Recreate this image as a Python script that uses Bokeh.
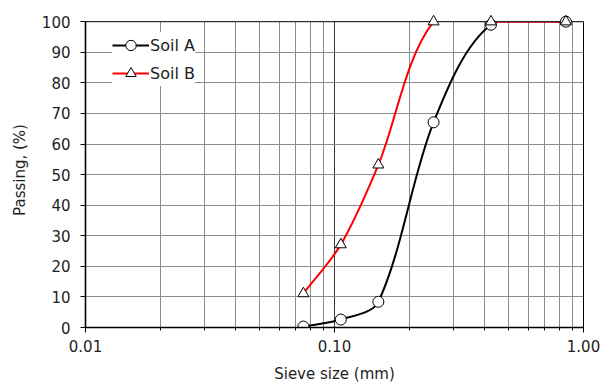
import math
from bokeh.plotting import figure
from bokeh.models import (Range1d, FixedTicker, SingleIntervalTicker, PrintfTickFormatter,
                          Legend, LegendItem, ColumnDataSource, LinearAxis, Span, BoxAnnotation)
from bokeh.embed import file_html
from bokeh.resources import INLINE

# ---- data ----
sieve_mm = [0.075, 0.106, 0.15, 0.25, 0.425, 0.85]
soil_a = [0.3, 2.6, 8.4, 67.1, 99.0, 100.0]
soil_b = [11.1, 27.1, 53.2, 100.0, 100.0, 100.0]
series_names = ["Soil A", "Soil B"]
x_tick_major = [0.01, 0.1, 1.0]
x_tick_minor = [m * 10.0 ** e for e in (-2, -1) for m in range(2, 10)]
y_max = 100

FONT = "DejaVu Sans"
TXT = "#1e1e1e"

# approximate screen scale (px per decade on x, px per % on y) used only for curve smoothing
SX, SY = 249.0, 3.06


def smooth_segments(xs, ys, k=0.3):
    """Excel-like smoothed line as cubic Bezier segments (tangents computed in screen space)."""
    n = len(xs)
    px = [math.log10(v) * SX for v in xs]
    py = [v * SY for v in ys]

    def unit(dx, dy):
        L = math.hypot(dx, dy)
        return (dx / L, dy / L) if L > 0 else (0.0, 0.0)

    tang = []
    for i in range(n):
        a, b = max(i - 1, 0), min(i + 1, n - 1)
        tang.append(unit(px[b] - px[a], py[b] - py[a]))
    out = dict(x0=[], y0=[], x1=[], y1=[], cx0=[], cy0=[], cx1=[], cy1=[])
    for i in range(n - 1):
        L = math.hypot(px[i + 1] - px[i], py[i + 1] - py[i])
        c1 = (px[i] + tang[i][0] * L * k, py[i] + tang[i][1] * L * k)
        c2 = (px[i + 1] - tang[i + 1][0] * L * k, py[i + 1] - tang[i + 1][1] * L * k)
        out["x0"].append(xs[i]); out["y0"].append(ys[i])
        out["x1"].append(xs[i + 1]); out["y1"].append(ys[i + 1])
        out["cx0"].append(10 ** (c1[0] / SX)); out["cy0"].append(c1[1] / SY)
        out["cx1"].append(10 ** (c2[0] / SX)); out["cy1"].append(c2[1] / SY)
    return ColumnDataSource(out)


# a little head-room above 100 % so the markers sitting on the top edge are not cut
y_top = y_max + 9.2 / SY

p = figure(width=606, height=387, x_axis_type="log",
           x_range=Range1d(0.01, 1.0), y_range=Range1d(0, y_top),
           output_backend="svg", toolbar_location=None,
           min_border_left=85, min_border_right=23, min_border_top=12, min_border_bottom=60)
p.background_fill_color = "white"
p.border_fill_color = "white"
p.outline_line_color = None

# axes
xt = FixedTicker(ticks=x_tick_major, minor_ticks=x_tick_minor)
p.xaxis.ticker = xt
p.xaxis.formatter = PrintfTickFormatter(format="%.2f")
p.yaxis.ticker = SingleIntervalTicker(interval=10, num_minor_ticks=0)
p.yaxis.bounds = (0, y_max)

# right border of the plot area (no ticks, no labels)
right_axis = LinearAxis(bounds=(0, y_max), ticker=FixedTicker(ticks=[], minor_ticks=[]),
                        major_tick_line_color=None, minor_tick_line_color=None,
                        axis_line_color="black", axis_line_width=1)
p.add_layout(right_axis, "right")

for ax in (p.xaxis[0], p.yaxis[0]):
    ax.axis_line_color = "black"
    ax.axis_line_width = 1.6
    ax.major_tick_line_color = "black"
    ax.major_tick_in = 0
    ax.major_tick_out = 5
    ax.major_label_text_font = FONT
    ax.major_label_text_font_size = "15px"
    ax.major_label_text_color = TXT
    ax.axis_label_text_font = FONT
    ax.axis_label_text_font_size = "15px"
    ax.axis_label_text_font_style = "normal"
    ax.axis_label_text_color = TXT

p.xaxis.minor_tick_line_color = "black"
p.xaxis.minor_tick_in = 0
p.xaxis.minor_tick_out = 3
p.yaxis[0].minor_tick_line_color = None
p.xaxis.major_label_standoff = 7
p.yaxis[0].major_label_standoff = 10
p.xaxis.axis_label = "Sieve size (mm)"
p.yaxis[0].axis_label = "Passing, (%)"
p.xaxis.axis_label_standoff = 10
p.yaxis[0].axis_label_standoff = 10

# grid
p.xgrid.ticker = xt
p.xgrid.grid_line_color = "#3a3a3a"
p.xgrid.minor_grid_line_color = "#8c8c8c"
p.ygrid.grid_line_color = "#8c8c8c"

nan = float("nan")

# smoothed lines
sa = smooth_segments(sieve_mm, soil_a)
ra = p.bezier(x0="x0", y0="y0", x1="x1", y1="y1", cx0="cx0", cy0="cy0", cx1="cx1", cy1="cy1",
              source=sa, line_color="black", line_width=2)
sb = smooth_segments(sieve_mm, soil_b)
rb = p.bezier(x0="x0", y0="y0", x1="x1", y1="y1", cx0="cx0", cy0="cy0", cx1="cx1", cy1="cy1",
              source=sb, line_color="#ff0000", line_width=2)

# mask above 100 % (plot area ends there) and the top border line
mask = BoxAnnotation(bottom=y_max, fill_color="white", fill_alpha=1.0, line_color=None, level="glyph")
top_border = Span(location=y_max, dimension="width", line_color="black", line_width=1, level="glyph")
p.renderers.extend([mask, top_border])

# markers
ma = p.scatter(sieve_mm, soil_a, marker="circle", size=11, fill_color="white",
               line_color="black", line_width=1)
mb = p.scatter(sieve_mm, soil_b, marker="triangle", size=11, fill_color="white",
               line_color="black", line_width=1)

# legend proxies
la = p.line([nan], [nan], line_color="black", line_width=2)
lb = p.line([nan], [nan], line_color="#ff0000", line_width=2)

legend = Legend(items=[LegendItem(label=series_names[0], renderers=[la, ma]),
                       LegendItem(label=series_names[1], renderers=[lb, mb])],
                location=(27, 241))
legend.background_fill_color = "white"
legend.background_fill_alpha = 1.0
legend.border_line_color = None
legend.label_text_font = FONT
legend.label_text_font_size = "16px"
legend.label_text_color = TXT
legend.glyph_width = 37
legend.glyph_height = 26
legend.label_height = 26
legend.label_standoff = 1
legend.spacing = 2
legend.padding = 10
legend.margin = 0
p.add_layout(legend, "center")

open("out.html", "w").write(file_html(p, INLINE))
